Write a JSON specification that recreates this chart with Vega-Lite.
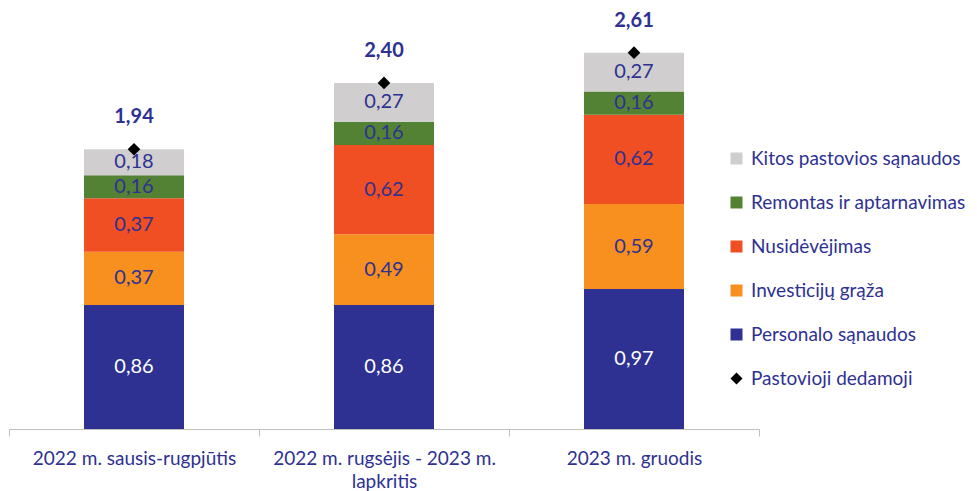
{
  "$schema": "https://vega.github.io/schema/vega-lite/v6.json",
  "width": 750,
  "height": 429,
  "autosize": "none",
  "padding": {"left": 9, "top": 0, "right": 218, "bottom": 62},
  "config": {
    "view": {"stroke": null},
    "font": "Lato",
    "locale": {"number": {"decimal": ",", "thousands": " ", "grouping": [3], "currency": ["", " €"]}}
  },
  "datasets": {
    "parts": [
      {"laikotarpis": "2022 m. sausis-rugpjūtis", "serija": "Personalo sąnaudos", "eil": 1, "reiksme": 0.86},
      {"laikotarpis": "2022 m. sausis-rugpjūtis", "serija": "Investicijų grąža", "eil": 2, "reiksme": 0.37},
      {"laikotarpis": "2022 m. sausis-rugpjūtis", "serija": "Nusidėvėjimas", "eil": 3, "reiksme": 0.37},
      {"laikotarpis": "2022 m. sausis-rugpjūtis", "serija": "Remontas ir aptarnavimas", "eil": 4, "reiksme": 0.16},
      {"laikotarpis": "2022 m. sausis-rugpjūtis", "serija": "Kitos pastovios sąnaudos", "eil": 5, "reiksme": 0.18},
      {"laikotarpis": "2022 m. rugsėjis - 2023 m. lapkritis", "serija": "Personalo sąnaudos", "eil": 1, "reiksme": 0.86},
      {"laikotarpis": "2022 m. rugsėjis - 2023 m. lapkritis", "serija": "Investicijų grąža", "eil": 2, "reiksme": 0.49},
      {"laikotarpis": "2022 m. rugsėjis - 2023 m. lapkritis", "serija": "Nusidėvėjimas", "eil": 3, "reiksme": 0.62},
      {"laikotarpis": "2022 m. rugsėjis - 2023 m. lapkritis", "serija": "Remontas ir aptarnavimas", "eil": 4, "reiksme": 0.16},
      {"laikotarpis": "2022 m. rugsėjis - 2023 m. lapkritis", "serija": "Kitos pastovios sąnaudos", "eil": 5, "reiksme": 0.27},
      {"laikotarpis": "2023 m. gruodis", "serija": "Personalo sąnaudos", "eil": 1, "reiksme": 0.97},
      {"laikotarpis": "2023 m. gruodis", "serija": "Investicijų grąža", "eil": 2, "reiksme": 0.59},
      {"laikotarpis": "2023 m. gruodis", "serija": "Nusidėvėjimas", "eil": 3, "reiksme": 0.62},
      {"laikotarpis": "2023 m. gruodis", "serija": "Remontas ir aptarnavimas", "eil": 4, "reiksme": 0.16},
      {"laikotarpis": "2023 m. gruodis", "serija": "Kitos pastovios sąnaudos", "eil": 5, "reiksme": 0.27}
    ],
    "totals": [
      {"laikotarpis": "2022 m. sausis-rugpjūtis", "serija": "Pastovioji dedamoji", "reiksme": 1.94},
      {"laikotarpis": "2022 m. rugsėjis - 2023 m. lapkritis", "serija": "Pastovioji dedamoji", "reiksme": 2.40},
      {"laikotarpis": "2023 m. gruodis", "serija": "Pastovioji dedamoji", "reiksme": 2.61}
    ]
  },
  "encoding": {
    "x": {
      "field": "laikotarpis",
      "type": "nominal",
      "sort": ["2022 m. sausis-rugpjūtis", "2022 m. rugsėjis - 2023 m. lapkritis", "2023 m. gruodis"],
      "scale": {"paddingInner": 0, "paddingOuter": 0},
      "axis": {
        "title": null,
        "labelAngle": 0,
        "labelFontSize": 19,
        "labelColor": "#2E3192",
        "labelPadding": 13,
        "labelLineHeight": 23,
        "labelBaseline": "top",
        "labelLimit": 400,
        "tickBand": "extent",
        "tickSize": 7,
        "tickColor": "#BFBFBF",
        "domainColor": "#BFBFBF",
        "labelExpr": "datum.value == '2022 m. rugsėjis - 2023 m. lapkritis' ? ['2022 m. rugsėjis - 2023 m.', 'lapkritis'] : datum.value"
      }
    }
  },
  "layer": [
    {
      "data": {"name": "parts"},
      "mark": {"type": "bar", "width": {"band": 0.4}},
      "encoding": {
        "y": {"field": "reiksme", "type": "quantitative", "stack": "zero", "scale": {"domain": [0, 2.975], "nice": false}, "axis": null},
        "color": {
          "field": "serija",
          "type": "nominal",
          "scale": {
            "domain": ["Kitos pastovios sąnaudos", "Remontas ir aptarnavimas", "Nusidėvėjimas", "Investicijų grąža", "Personalo sąnaudos", "Pastovioji dedamoji"],
            "range": ["#D0CECE", "#548235", "#F04E23", "#F7901E", "#2E3192", "#000000"]
          },
          "legend": {
            "orient": "none",
            "legendX": 718,
            "legendY": 149,
            "title": null,
            "padding": 0,
            "labelFontSize": 19,
            "labelColor": "#2E3192",
            "labelOffset": 5,
            "symbolSize": 144,
            "symbolStrokeWidth": 0,
            "rowPadding": 24,
            "labelLimit": 300
          }
        },
        "order": {"field": "eil", "type": "quantitative"}
      }
    },
    {
      "data": {"name": "parts"},
      "mark": {"type": "text", "fontSize": 20},
      "encoding": {
        "y": {"field": "reiksme", "type": "quantitative", "stack": "zero", "bandPosition": 0.5},
        "detail": {"field": "serija", "type": "nominal"},
        "order": {"field": "eil", "type": "quantitative"},
        "text": {"field": "reiksme", "type": "quantitative", "format": ".2f"},
        "color": {"condition": {"test": "datum.serija === 'Personalo sąnaudos'", "value": "#FFFFFF"}, "value": "#2E3192"}
      }
    },
    {
      "data": {"name": "totals"},
      "mark": {"type": "point", "filled": true, "opacity": 1, "size": 160},
      "encoding": {
        "y": {"field": "reiksme", "type": "quantitative"},
        "color": {"field": "serija", "type": "nominal"},
        "shape": {
          "field": "serija",
          "type": "nominal",
          "scale": {
            "domain": ["Kitos pastovios sąnaudos", "Remontas ir aptarnavimas", "Nusidėvėjimas", "Investicijų grąža", "Personalo sąnaudos", "Pastovioji dedamoji"],
            "range": ["square", "square", "square", "square", "square", "diamond"]
          }
        }
      }
    },
    {
      "data": {"name": "totals"},
      "mark": {"type": "text", "fontSize": 20, "fontWeight": "bold", "dy": -32, "color": "#2E3192"},
      "encoding": {
        "y": {"field": "reiksme", "type": "quantitative"},
        "text": {"field": "reiksme", "type": "quantitative", "format": ".2f"}
      }
    }
  ]
}
